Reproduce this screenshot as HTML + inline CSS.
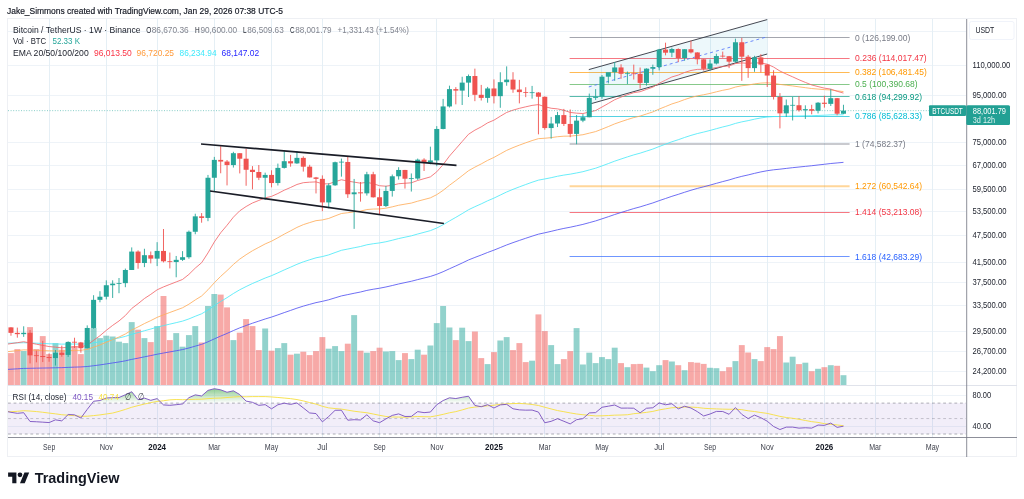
<!DOCTYPE html>
<html lang="en"><head><meta charset="utf-8"><title>BTCUSDT chart</title>
<style>html,body{margin:0;padding:0;background:#fff;}body{width:1024px;height:499px;overflow:hidden;font-family:"Liberation Sans",Arial,sans-serif;}svg{display:block;will-change:transform;filter:blur(0.3px)}</style>
</head><body>
<svg width="1024" height="499" viewBox="0 0 1024 499" font-family="Liberation Sans, Arial, sans-serif">
<g stroke="#eef3f8" stroke-width="1" shape-rendering="crispEdges">
<line x1="8" x2="966" y1="31.5" y2="31.5"/>
<line x1="8" x2="966" y1="65.5" y2="65.5"/>
<line x1="8" x2="966" y1="95.5" y2="95.5"/>
<line x1="8" x2="966" y1="142.5" y2="142.5"/>
<line x1="8" x2="966" y1="165.5" y2="165.5"/>
<line x1="8" x2="966" y1="189.5" y2="189.5"/>
<line x1="8" x2="966" y1="211.5" y2="211.5"/>
<line x1="8" x2="966" y1="235.5" y2="235.5"/>
<line x1="8" x2="966" y1="262.5" y2="262.5"/>
<line x1="8" x2="966" y1="282.5" y2="282.5"/>
<line x1="8" x2="966" y1="305.5" y2="305.5"/>
<line x1="8" x2="966" y1="331.5" y2="331.5"/>
<line x1="8" x2="966" y1="351.5" y2="351.5"/>
<line x1="8" x2="966" y1="371.5" y2="371.5"/>
<line x1="8" x2="966" y1="395.5" y2="395.5"/>
<line x1="8" x2="966" y1="426.5" y2="426.5"/>
<line x1="49.5" x2="49.5" y1="19" y2="437" stroke="#e5eff5"/>
<line x1="106.5" x2="106.5" y1="19" y2="437" stroke="#e5eff5"/>
<line x1="157.5" x2="157.5" y1="19" y2="437" stroke="#e5eff5"/>
<line x1="214.5" x2="214.5" y1="19" y2="437" stroke="#e5eff5"/>
<line x1="271.5" x2="271.5" y1="19" y2="437" stroke="#e5eff5"/>
<line x1="322.5" x2="322.5" y1="19" y2="437" stroke="#e5eff5"/>
<line x1="379.5" x2="379.5" y1="19" y2="437" stroke="#e5eff5"/>
<line x1="436.5" x2="436.5" y1="19" y2="437" stroke="#e5eff5"/>
<line x1="493.5" x2="493.5" y1="19" y2="437" stroke="#e5eff5"/>
<line x1="544.5" x2="544.5" y1="19" y2="437" stroke="#e5eff5"/>
<line x1="601.5" x2="601.5" y1="19" y2="437" stroke="#e5eff5"/>
<line x1="659.5" x2="659.5" y1="19" y2="437" stroke="#e5eff5"/>
<line x1="710.5" x2="710.5" y1="19" y2="437" stroke="#e5eff5"/>
<line x1="767.5" x2="767.5" y1="19" y2="437" stroke="#e5eff5"/>
<line x1="824.5" x2="824.5" y1="19" y2="437" stroke="#e5eff5"/>
<line x1="875.5" x2="875.5" y1="19" y2="437" stroke="#e5eff5"/>
<line x1="932.5" x2="932.5" y1="19" y2="437" stroke="#e5eff5"/>
</g>
<rect x="8" y="403.12" width="958.5" height="30.90" fill="#7e57c2" fill-opacity="0.1"/>
<g stroke="#787b86" stroke-width="1" stroke-dasharray="2.8,2.8" fill="none">
<line x1="8" x2="966" y1="403.12" y2="403.12" stroke-opacity="0.6"/>
<line x1="8" x2="966" y1="418.57" y2="418.57" stroke-opacity="0.4"/>
<line x1="8" x2="966" y1="434.02" y2="434.02" stroke-opacity="0.6"/>
</g>
<rect x="8.02" y="353.10" width="5.9" height="32.10" fill="#ef5350" fill-opacity="0.5"/>
<rect x="14.38" y="349.10" width="5.9" height="36.10" fill="#ef5350" fill-opacity="0.5"/>
<rect x="20.73" y="351.10" width="5.9" height="34.10" fill="#26a69a" fill-opacity="0.5"/>
<rect x="27.09" y="327.10" width="5.9" height="58.10" fill="#ef5350" fill-opacity="0.5"/>
<rect x="33.44" y="349.10" width="5.9" height="36.10" fill="#ef5350" fill-opacity="0.5"/>
<rect x="39.80" y="336.10" width="5.9" height="49.10" fill="#ef5350" fill-opacity="0.5"/>
<rect x="46.15" y="354.10" width="5.9" height="31.10" fill="#ef5350" fill-opacity="0.5"/>
<rect x="52.50" y="343.10" width="5.9" height="42.10" fill="#26a69a" fill-opacity="0.5"/>
<rect x="58.86" y="349.70" width="5.9" height="35.50" fill="#ef5350" fill-opacity="0.5"/>
<rect x="65.22" y="343.10" width="5.9" height="42.10" fill="#26a69a" fill-opacity="0.5"/>
<rect x="71.57" y="346.10" width="5.9" height="39.10" fill="#ef5350" fill-opacity="0.5"/>
<rect x="77.92" y="354.10" width="5.9" height="31.10" fill="#ef5350" fill-opacity="0.5"/>
<rect x="84.28" y="340.10" width="5.9" height="45.10" fill="#26a69a" fill-opacity="0.5"/>
<rect x="90.64" y="328.00" width="5.9" height="57.20" fill="#26a69a" fill-opacity="0.5"/>
<rect x="96.99" y="338.10" width="5.9" height="47.10" fill="#26a69a" fill-opacity="0.5"/>
<rect x="103.34" y="335.70" width="5.9" height="49.50" fill="#26a69a" fill-opacity="0.5"/>
<rect x="109.70" y="336.50" width="5.9" height="48.70" fill="#26a69a" fill-opacity="0.5"/>
<rect x="116.06" y="341.70" width="5.9" height="43.50" fill="#26a69a" fill-opacity="0.5"/>
<rect x="122.41" y="343.10" width="5.9" height="42.10" fill="#26a69a" fill-opacity="0.5"/>
<rect x="128.77" y="322.10" width="5.9" height="63.10" fill="#26a69a" fill-opacity="0.5"/>
<rect x="135.12" y="329.70" width="5.9" height="55.50" fill="#ef5350" fill-opacity="0.5"/>
<rect x="141.48" y="338.10" width="5.9" height="47.10" fill="#26a69a" fill-opacity="0.5"/>
<rect x="147.83" y="342.10" width="5.9" height="43.10" fill="#ef5350" fill-opacity="0.5"/>
<rect x="154.19" y="326.10" width="5.9" height="59.10" fill="#26a69a" fill-opacity="0.5"/>
<rect x="160.54" y="296.00" width="5.9" height="89.20" fill="#ef5350" fill-opacity="0.5"/>
<rect x="166.90" y="340.10" width="5.9" height="45.10" fill="#ef5350" fill-opacity="0.5"/>
<rect x="173.25" y="333.10" width="5.9" height="52.10" fill="#26a69a" fill-opacity="0.5"/>
<rect x="179.61" y="346.70" width="5.9" height="38.50" fill="#26a69a" fill-opacity="0.5"/>
<rect x="185.96" y="335.10" width="5.9" height="50.10" fill="#26a69a" fill-opacity="0.5"/>
<rect x="192.32" y="326.10" width="5.9" height="59.10" fill="#26a69a" fill-opacity="0.5"/>
<rect x="198.67" y="342.50" width="5.9" height="42.70" fill="#ef5350" fill-opacity="0.5"/>
<rect x="205.03" y="306.00" width="5.9" height="79.20" fill="#26a69a" fill-opacity="0.5"/>
<rect x="211.38" y="294.00" width="5.9" height="91.20" fill="#26a69a" fill-opacity="0.5"/>
<rect x="217.74" y="294.60" width="5.9" height="90.60" fill="#ef5350" fill-opacity="0.5"/>
<rect x="224.09" y="307.40" width="5.9" height="77.80" fill="#ef5350" fill-opacity="0.5"/>
<rect x="230.45" y="340.10" width="5.9" height="45.10" fill="#26a69a" fill-opacity="0.5"/>
<rect x="236.80" y="332.70" width="5.9" height="52.50" fill="#ef5350" fill-opacity="0.5"/>
<rect x="243.16" y="319.10" width="5.9" height="66.10" fill="#ef5350" fill-opacity="0.5"/>
<rect x="249.51" y="326.10" width="5.9" height="59.10" fill="#ef5350" fill-opacity="0.5"/>
<rect x="255.87" y="350.10" width="5.9" height="35.10" fill="#ef5350" fill-opacity="0.5"/>
<rect x="262.22" y="328.50" width="5.9" height="56.70" fill="#26a69a" fill-opacity="0.5"/>
<rect x="268.58" y="350.70" width="5.9" height="34.50" fill="#ef5350" fill-opacity="0.5"/>
<rect x="274.93" y="348.10" width="5.9" height="37.10" fill="#26a69a" fill-opacity="0.5"/>
<rect x="281.29" y="343.10" width="5.9" height="42.10" fill="#26a69a" fill-opacity="0.5"/>
<rect x="287.64" y="354.70" width="5.9" height="30.50" fill="#ef5350" fill-opacity="0.5"/>
<rect x="294.00" y="353.70" width="5.9" height="31.50" fill="#26a69a" fill-opacity="0.5"/>
<rect x="300.35" y="351.70" width="5.9" height="33.50" fill="#ef5350" fill-opacity="0.5"/>
<rect x="306.71" y="355.10" width="5.9" height="30.10" fill="#ef5350" fill-opacity="0.5"/>
<rect x="313.06" y="351.10" width="5.9" height="34.10" fill="#ef5350" fill-opacity="0.5"/>
<rect x="319.42" y="337.10" width="5.9" height="48.10" fill="#ef5350" fill-opacity="0.5"/>
<rect x="325.77" y="348.70" width="5.9" height="36.50" fill="#26a69a" fill-opacity="0.5"/>
<rect x="332.13" y="346.10" width="5.9" height="39.10" fill="#26a69a" fill-opacity="0.5"/>
<rect x="338.48" y="351.10" width="5.9" height="34.10" fill="#26a69a" fill-opacity="0.5"/>
<rect x="344.84" y="343.70" width="5.9" height="41.50" fill="#ef5350" fill-opacity="0.5"/>
<rect x="351.19" y="315.10" width="5.9" height="70.10" fill="#26a69a" fill-opacity="0.5"/>
<rect x="357.55" y="350.70" width="5.9" height="34.50" fill="#ef5350" fill-opacity="0.5"/>
<rect x="363.90" y="352.70" width="5.9" height="32.50" fill="#26a69a" fill-opacity="0.5"/>
<rect x="370.26" y="351.10" width="5.9" height="34.10" fill="#ef5350" fill-opacity="0.5"/>
<rect x="376.61" y="347.70" width="5.9" height="37.50" fill="#ef5350" fill-opacity="0.5"/>
<rect x="382.97" y="351.50" width="5.9" height="33.70" fill="#26a69a" fill-opacity="0.5"/>
<rect x="389.32" y="351.10" width="5.9" height="34.10" fill="#26a69a" fill-opacity="0.5"/>
<rect x="395.68" y="360.10" width="5.9" height="25.10" fill="#26a69a" fill-opacity="0.5"/>
<rect x="402.03" y="353.10" width="5.9" height="32.10" fill="#ef5350" fill-opacity="0.5"/>
<rect x="408.39" y="359.10" width="5.9" height="26.10" fill="#26a69a" fill-opacity="0.5"/>
<rect x="414.74" y="349.70" width="5.9" height="35.50" fill="#26a69a" fill-opacity="0.5"/>
<rect x="421.10" y="354.70" width="5.9" height="30.50" fill="#ef5350" fill-opacity="0.5"/>
<rect x="427.45" y="345.50" width="5.9" height="39.70" fill="#26a69a" fill-opacity="0.5"/>
<rect x="433.81" y="323.10" width="5.9" height="62.10" fill="#26a69a" fill-opacity="0.5"/>
<rect x="440.16" y="306.00" width="5.9" height="79.20" fill="#26a69a" fill-opacity="0.5"/>
<rect x="446.52" y="327.50" width="5.9" height="57.70" fill="#26a69a" fill-opacity="0.5"/>
<rect x="452.87" y="340.10" width="5.9" height="45.10" fill="#ef5350" fill-opacity="0.5"/>
<rect x="459.23" y="327.70" width="5.9" height="57.50" fill="#26a69a" fill-opacity="0.5"/>
<rect x="465.58" y="341.10" width="5.9" height="44.10" fill="#26a69a" fill-opacity="0.5"/>
<rect x="471.94" y="331.50" width="5.9" height="53.70" fill="#ef5350" fill-opacity="0.5"/>
<rect x="478.29" y="358.10" width="5.9" height="27.10" fill="#ef5350" fill-opacity="0.5"/>
<rect x="484.65" y="364.10" width="5.9" height="21.10" fill="#26a69a" fill-opacity="0.5"/>
<rect x="491.00" y="352.10" width="5.9" height="33.10" fill="#ef5350" fill-opacity="0.5"/>
<rect x="497.36" y="340.50" width="5.9" height="44.70" fill="#26a69a" fill-opacity="0.5"/>
<rect x="503.71" y="337.10" width="5.9" height="48.10" fill="#26a69a" fill-opacity="0.5"/>
<rect x="510.06" y="350.10" width="5.9" height="35.10" fill="#ef5350" fill-opacity="0.5"/>
<rect x="516.42" y="343.10" width="5.9" height="42.10" fill="#ef5350" fill-opacity="0.5"/>
<rect x="522.77" y="362.10" width="5.9" height="23.10" fill="#ef5350" fill-opacity="0.5"/>
<rect x="529.13" y="360.70" width="5.9" height="24.50" fill="#26a69a" fill-opacity="0.5"/>
<rect x="535.49" y="314.40" width="5.9" height="70.80" fill="#ef5350" fill-opacity="0.5"/>
<rect x="541.84" y="331.10" width="5.9" height="54.10" fill="#ef5350" fill-opacity="0.5"/>
<rect x="548.20" y="345.10" width="5.9" height="40.10" fill="#26a69a" fill-opacity="0.5"/>
<rect x="554.55" y="364.10" width="5.9" height="21.10" fill="#26a69a" fill-opacity="0.5"/>
<rect x="560.90" y="359.10" width="5.9" height="26.10" fill="#ef5350" fill-opacity="0.5"/>
<rect x="567.26" y="351.10" width="5.9" height="34.10" fill="#ef5350" fill-opacity="0.5"/>
<rect x="573.62" y="328.10" width="5.9" height="57.10" fill="#26a69a" fill-opacity="0.5"/>
<rect x="579.97" y="364.50" width="5.9" height="20.70" fill="#26a69a" fill-opacity="0.5"/>
<rect x="586.33" y="352.70" width="5.9" height="32.50" fill="#26a69a" fill-opacity="0.5"/>
<rect x="592.68" y="363.10" width="5.9" height="22.10" fill="#26a69a" fill-opacity="0.5"/>
<rect x="599.03" y="357.10" width="5.9" height="28.10" fill="#26a69a" fill-opacity="0.5"/>
<rect x="605.39" y="359.10" width="5.9" height="26.10" fill="#26a69a" fill-opacity="0.5"/>
<rect x="611.75" y="347.70" width="5.9" height="37.50" fill="#26a69a" fill-opacity="0.5"/>
<rect x="618.10" y="363.10" width="5.9" height="22.10" fill="#ef5350" fill-opacity="0.5"/>
<rect x="624.46" y="367.20" width="5.9" height="18.00" fill="#26a69a" fill-opacity="0.5"/>
<rect x="630.81" y="364.10" width="5.9" height="21.10" fill="#ef5350" fill-opacity="0.5"/>
<rect x="637.17" y="363.90" width="5.9" height="21.30" fill="#ef5350" fill-opacity="0.5"/>
<rect x="643.52" y="367.60" width="5.9" height="17.60" fill="#26a69a" fill-opacity="0.5"/>
<rect x="649.88" y="371.20" width="5.9" height="14.00" fill="#26a69a" fill-opacity="0.5"/>
<rect x="656.23" y="365.20" width="5.9" height="20.00" fill="#26a69a" fill-opacity="0.5"/>
<rect x="662.59" y="360.10" width="5.9" height="25.10" fill="#ef5350" fill-opacity="0.5"/>
<rect x="668.94" y="361.50" width="5.9" height="23.70" fill="#26a69a" fill-opacity="0.5"/>
<rect x="675.30" y="365.20" width="5.9" height="20.00" fill="#ef5350" fill-opacity="0.5"/>
<rect x="681.65" y="370.20" width="5.9" height="15.00" fill="#26a69a" fill-opacity="0.5"/>
<rect x="688.00" y="362.10" width="5.9" height="23.10" fill="#ef5350" fill-opacity="0.5"/>
<rect x="694.36" y="362.70" width="5.9" height="22.50" fill="#ef5350" fill-opacity="0.5"/>
<rect x="700.72" y="363.90" width="5.9" height="21.30" fill="#ef5350" fill-opacity="0.5"/>
<rect x="707.07" y="367.80" width="5.9" height="17.40" fill="#26a69a" fill-opacity="0.5"/>
<rect x="713.43" y="368.20" width="5.9" height="17.00" fill="#26a69a" fill-opacity="0.5"/>
<rect x="719.78" y="371.20" width="5.9" height="14.00" fill="#ef5350" fill-opacity="0.5"/>
<rect x="726.13" y="367.20" width="5.9" height="18.00" fill="#ef5350" fill-opacity="0.5"/>
<rect x="732.49" y="361.10" width="5.9" height="24.10" fill="#26a69a" fill-opacity="0.5"/>
<rect x="738.85" y="345.10" width="5.9" height="40.10" fill="#ef5350" fill-opacity="0.5"/>
<rect x="745.20" y="352.50" width="5.9" height="32.70" fill="#ef5350" fill-opacity="0.5"/>
<rect x="751.56" y="359.10" width="5.9" height="26.10" fill="#26a69a" fill-opacity="0.5"/>
<rect x="757.91" y="361.10" width="5.9" height="24.10" fill="#ef5350" fill-opacity="0.5"/>
<rect x="764.26" y="347.10" width="5.9" height="38.10" fill="#ef5350" fill-opacity="0.5"/>
<rect x="770.62" y="349.10" width="5.9" height="36.10" fill="#ef5350" fill-opacity="0.5"/>
<rect x="776.98" y="336.10" width="5.9" height="49.10" fill="#ef5350" fill-opacity="0.5"/>
<rect x="783.33" y="362.50" width="5.9" height="22.70" fill="#26a69a" fill-opacity="0.5"/>
<rect x="789.69" y="356.70" width="5.9" height="28.50" fill="#26a69a" fill-opacity="0.5"/>
<rect x="796.04" y="364.10" width="5.9" height="21.10" fill="#ef5350" fill-opacity="0.5"/>
<rect x="802.39" y="362.70" width="5.9" height="22.50" fill="#26a69a" fill-opacity="0.5"/>
<rect x="808.75" y="371.20" width="5.9" height="14.00" fill="#ef5350" fill-opacity="0.5"/>
<rect x="815.11" y="368.80" width="5.9" height="16.40" fill="#26a69a" fill-opacity="0.5"/>
<rect x="821.46" y="367.20" width="5.9" height="18.00" fill="#ef5350" fill-opacity="0.5"/>
<rect x="827.82" y="365.20" width="5.9" height="20.00" fill="#26a69a" fill-opacity="0.5"/>
<rect x="834.17" y="365.80" width="5.9" height="19.40" fill="#ef5350" fill-opacity="0.5"/>
<rect x="840.53" y="375.20" width="5.9" height="10.00" fill="#26a69a" fill-opacity="0.5"/>
<line x1="569.6" x2="849.6" y1="37.50" y2="37.50" stroke="#787b86" stroke-width="0.9" stroke-opacity="0.75"/>
<line x1="569.6" x2="849.6" y1="58.50" y2="58.50" stroke="#f23645" stroke-width="0.9" stroke-opacity="0.75"/>
<line x1="569.6" x2="849.6" y1="72.50" y2="72.50" stroke="#ff9800" stroke-width="0.9" stroke-opacity="0.75"/>
<line x1="569.6" x2="849.6" y1="84.50" y2="84.50" stroke="#4caf50" stroke-width="0.9" stroke-opacity="0.75"/>
<line x1="569.6" x2="849.6" y1="96.50" y2="96.50" stroke="#089981" stroke-width="0.9" stroke-opacity="0.75"/>
<line x1="569.6" x2="849.6" y1="116.50" y2="116.50" stroke="#00bcd4" stroke-width="0.9" stroke-opacity="0.75"/>
<line x1="569.6" x2="849.6" y1="144.05" y2="144.05" stroke="#787b86" stroke-width="2" stroke-opacity="0.4"/>
<line x1="569.6" x2="849.6" y1="186.16" y2="186.16" stroke="#ff9800" stroke-width="2" stroke-opacity="0.4"/>
<line x1="569.6" x2="849.6" y1="212.50" y2="212.50" stroke="#f23645" stroke-width="0.9" stroke-opacity="0.75"/>
<line x1="569.6" x2="849.6" y1="256.50" y2="256.50" stroke="#2962ff" stroke-width="0.9" stroke-opacity="0.75"/>
<polygon points="588.8,69.6 767.2,19.6 767.2,54.0 588.8,104.3" fill="#00a0c8" fill-opacity="0.07"/>
<line x1="588.8" y1="69.6" x2="767.2" y2="19.6" stroke="#3a3e49" stroke-width="0.95"/>
<line x1="588.8" y1="104.3" x2="767.2" y2="54.0" stroke="#3a3e49" stroke-width="0.95"/>
<line x1="588.8" y1="86.9" x2="767.2" y2="36.8" stroke="#5b7cfa" stroke-width="0.9" stroke-dasharray="3,3"/>
<polyline points="7.5,369.41 10.97,369.20 17.33,368.82 23.68,368.43 30.04,368.29 36.39,368.17 42.75,368.05 49.10,367.95 55.45,367.79 61.81,367.66 68.17,367.39 74.52,367.13 80.88,366.93 87.23,366.50 93.59,365.72 99.94,364.90 106.30,363.93 112.65,362.95 119.01,361.98 125.36,360.82 131.72,359.39 138.07,358.16 144.43,356.83 150.78,355.58 157.14,354.22 163.49,353.04 169.84,351.90 176.20,350.75 182.56,349.57 188.91,347.98 195.27,346.14 201.62,344.37 207.98,341.81 214.33,338.89 220.69,336.09 227.04,333.43 233.40,330.55 239.75,327.87 246.11,325.50 252.46,323.22 258.82,321.11 265.17,318.99 271.53,317.07 277.88,314.88 284.24,312.60 290.59,310.42 296.95,308.16 303.30,306.13 309.66,304.35 316.01,302.63 322.37,301.34 328.72,299.79 335.08,297.83 341.43,295.91 347.79,294.60 354.14,293.28 360.50,292.00 366.85,290.42 373.21,289.24 379.56,288.22 385.92,286.98 392.27,285.52 398.63,283.97 404.98,282.60 411.34,281.25 417.69,279.60 424.05,278.03 430.40,276.45 436.76,274.30 443.11,271.71 449.47,268.78 455.82,265.95 462.18,263.00 468.53,259.96 474.89,257.43 481.24,255.03 487.60,252.47 493.95,250.14 500.31,247.55 506.66,244.96 513.01,242.64 519.37,240.43 525.73,238.27 532.08,236.16 538.44,234.17 544.79,232.79 551.15,231.35 557.50,229.79 563.86,228.41 570.21,227.22 576.57,225.82 582.92,224.40 589.28,222.66 595.63,220.92 601.99,218.84 608.34,216.71 614.70,214.52 621.05,212.50 627.41,210.53 633.76,208.59 640.12,206.86 646.47,204.90 652.83,202.94 659.18,200.67 665.54,198.51 671.89,196.32 678.25,194.35 684.60,192.25 690.96,190.25 697.31,188.43 703.67,186.81 710.02,185.12 716.38,183.33 722.73,181.58 729.09,179.96 735.44,178.00 741.80,176.35 748.15,174.93 754.51,173.35 760.86,171.92 767.22,170.70 773.57,169.81 779.93,169.17 786.28,168.42 792.64,167.68 798.99,167.02 805.35,166.36 811.70,165.72 818.06,164.99 824.41,164.28 830.77,163.50 837.12,162.94 843.48,162.35" fill="none" stroke="#5555f2" stroke-width="0.85" stroke-linejoin="round"/>
<polyline points="7.5,343.20 10.97,343.10 17.33,342.92 23.68,342.71 30.04,342.96 36.39,343.21 42.75,343.47 49.10,343.75 55.45,343.93 61.81,344.14 68.17,344.09 74.52,344.06 80.88,344.14 87.23,343.81 93.59,342.84 99.94,341.82 106.30,340.53 112.65,339.23 119.01,337.95 125.36,336.36 131.72,334.28 138.07,332.60 144.43,330.74 150.78,329.03 157.14,327.15 163.49,325.61 169.84,324.14 176.20,322.65 182.56,321.12 188.91,318.91 195.27,316.28 201.62,313.79 207.98,309.98 214.33,305.61 220.69,301.49 227.04,297.67 233.40,293.53 239.75,289.77 246.11,286.55 252.46,283.52 258.82,280.79 265.17,278.05 271.53,275.66 277.88,272.86 284.24,269.93 290.59,267.17 296.95,264.32 303.30,261.85 309.66,259.78 316.01,257.82 322.37,256.56 328.72,254.88 335.08,252.56 341.43,250.31 347.79,249.04 354.14,247.75 360.50,246.51 366.85,244.80 373.21,243.74 379.56,242.92 385.92,241.75 392.27,240.23 398.63,238.57 404.98,237.19 411.34,235.85 417.69,234.03 424.05,232.34 430.40,230.63 436.76,228.03 443.11,224.76 449.47,220.96 455.82,217.37 462.18,213.61 468.53,209.74 474.89,206.70 481.24,203.86 487.60,200.80 493.95,198.11 500.31,195.03 506.66,191.97 513.01,189.34 519.37,186.89 525.73,184.53 532.08,182.23 538.44,180.14 544.79,178.96 551.15,177.70 557.50,176.26 563.86,175.08 570.21,174.17 576.57,172.96 582.92,171.70 589.28,169.94 595.63,168.20 601.99,165.92 608.34,163.57 614.70,161.15 621.05,159.00 627.41,156.90 633.76,154.88 640.12,153.17 646.47,151.10 652.83,149.05 659.18,146.52 665.54,144.17 671.89,141.78 678.25,139.73 684.60,137.48 690.96,135.40 697.31,133.58 703.67,132.07 710.02,130.46 716.38,128.69 722.73,126.97 729.09,125.45 735.44,123.42 741.80,121.86 748.15,120.64 754.51,119.18 760.86,117.94 767.22,117.01 773.57,116.59 779.93,116.53 786.28,116.30 792.64,116.07 798.99,115.96 805.35,115.82 811.70,115.72 818.06,115.45 824.41,115.22 830.77,114.86 837.12,114.84 843.48,114.76" fill="none" stroke="#4eeaf8" stroke-width="0.85" stroke-linejoin="round"/>
<polyline points="7.5,351.69 10.97,351.30 17.33,350.60 23.68,349.87 30.04,350.08 36.39,350.31 42.75,350.57 49.10,350.86 55.45,350.94 61.81,351.09 68.17,350.72 74.52,350.39 80.88,350.31 87.23,349.38 93.59,347.19 99.94,344.96 106.30,342.25 112.65,339.60 119.01,337.06 125.36,333.97 131.72,330.02 138.07,326.92 144.43,323.57 150.78,320.59 157.14,317.36 163.49,314.84 169.84,312.48 176.20,310.14 182.56,307.78 188.91,304.19 195.27,299.92 201.62,295.99 207.98,289.79 214.33,282.76 220.69,276.35 227.04,270.61 233.40,264.46 239.75,259.08 246.11,254.72 252.46,250.75 258.82,247.33 265.17,243.95 271.53,241.18 277.88,237.74 284.24,234.13 290.59,230.83 296.95,227.41 303.30,224.65 309.66,222.58 316.01,220.67 322.37,219.93 328.72,218.45 335.08,215.92 341.43,213.51 347.79,212.72 354.14,211.88 360.50,211.12 366.85,209.54 373.21,209.05 379.56,208.93 385.92,208.19 392.27,206.84 398.63,205.26 404.98,204.15 411.34,203.08 417.69,201.19 424.05,199.53 430.40,197.85 436.76,194.65 443.11,190.36 449.47,185.27 455.82,180.59 462.18,175.70 468.53,170.71 474.89,167.13 481.24,163.92 487.60,160.36 493.95,157.42 500.31,153.88 506.66,150.39 513.01,147.62 519.37,145.13 525.73,142.80 532.08,140.58 538.44,138.67 544.79,138.24 551.15,137.64 557.50,136.71 563.86,136.19 570.21,136.10 576.57,135.47 582.92,134.73 589.28,133.15 595.63,131.59 601.99,129.13 608.34,126.57 614.70,123.89 621.05,121.67 627.41,119.55 633.76,117.55 640.12,116.08 646.47,113.99 652.83,111.93 659.18,109.08 665.54,106.55 671.89,103.95 678.25,101.94 684.60,99.59 690.96,97.52 697.31,95.88 703.67,94.75 710.02,93.43 716.38,91.82 722.73,90.30 729.09,89.10 735.44,87.04 741.80,85.76 748.15,85.04 754.51,83.88 760.86,83.09 767.22,82.79 773.57,83.32 779.93,84.42 786.28,85.20 792.64,85.95 798.99,86.85 805.35,87.68 811.70,88.54 818.06,89.07 824.41,89.63 830.77,89.96 837.12,90.84 843.48,91.58" fill="none" stroke="#ffae5c" stroke-width="0.85" stroke-linejoin="round"/>
<polyline points="7.5,344.11 10.97,343.60 17.33,342.68 23.68,341.72 30.04,342.98 36.39,344.19 42.75,345.38 49.10,346.55 55.45,347.13 61.81,347.86 68.17,347.29 74.52,346.82 80.88,346.95 87.23,345.07 93.59,340.30 99.94,335.72 106.30,330.33 112.65,325.39 119.01,320.96 125.36,315.51 131.72,308.47 138.07,303.68 144.43,298.52 150.78,294.37 157.14,289.80 163.49,286.91 169.84,284.40 176.20,281.93 182.56,279.44 188.91,274.38 195.27,268.08 201.62,262.73 207.98,252.91 214.33,241.96 220.69,232.76 227.04,225.25 233.40,217.16 239.75,210.81 246.11,206.52 252.46,202.97 258.82,200.43 265.17,197.85 271.53,196.39 277.88,193.50 284.24,190.19 290.59,187.48 296.95,184.47 303.30,182.70 309.66,182.20 316.01,181.88 322.37,183.75 328.72,183.90 335.08,181.73 341.43,179.76 347.79,181.10 354.14,182.14 360.50,183.18 366.85,182.32 373.21,183.69 379.56,185.72 385.92,186.21 392.27,185.24 398.63,183.73 404.98,183.25 411.34,182.80 417.69,180.48 424.05,178.71 430.40,176.89 436.76,171.81 443.11,164.59 449.47,156.06 455.82,148.82 462.18,141.50 468.53,134.26 474.89,130.15 481.24,126.85 487.60,122.86 493.95,120.16 500.31,116.22 506.66,112.44 513.01,110.14 519.37,108.35 525.73,106.82 532.08,105.42 538.44,104.58 544.79,106.70 551.15,108.24 557.50,108.88 563.86,110.27 570.21,112.41 576.57,113.17 582.92,113.56 589.28,112.01 595.63,110.51 601.99,107.03 608.34,103.44 614.70,99.72 621.05,97.10 627.41,94.74 633.76,92.66 640.12,91.71 646.47,89.39 652.83,87.16 659.18,83.26 665.54,80.14 671.89,76.96 678.25,75.08 684.60,72.47 690.96,70.47 697.31,69.38 703.67,69.33 710.02,68.77 716.38,67.52 722.73,66.42 729.09,65.96 735.44,63.58 741.80,62.91 748.15,63.40 754.51,62.82 760.86,62.99 767.22,64.16 773.57,67.05 779.93,71.03 786.28,74.06 792.64,76.83 798.99,79.78 805.35,82.40 811.70,84.94 818.06,86.57 824.41,88.15 830.77,89.09 837.12,91.31 843.48,93.07" fill="none" stroke="#f2686b" stroke-width="0.85" stroke-linejoin="round"/>
<line x1="8" x2="966" y1="110.65" y2="110.65" stroke="#26a69a" stroke-width="1" stroke-dasharray="1,1.6" stroke-opacity="0.55"/>
<line x1="10.97" x2="10.97" y1="327.26" y2="335.74" stroke="#ef5350" stroke-width="0.9"/>
<rect x="8.47" y="327.37" width="5.0" height="5.50" fill="#ef5350"/>
<line x1="17.33" x2="17.33" y1="327.61" y2="337.68" stroke="#ef5350" stroke-width="0.9"/>
<rect x="14.83" y="332.86" width="5.0" height="1.29" fill="#ef5350"/>
<line x1="23.68" x2="23.68" y1="326.29" y2="336.86" stroke="#26a69a" stroke-width="0.9"/>
<rect x="21.18" y="332.80" width="5.0" height="1.36" fill="#26a69a"/>
<line x1="30.04" x2="30.04" y1="330.06" y2="363.40" stroke="#ef5350" stroke-width="0.9"/>
<rect x="27.54" y="332.80" width="5.0" height="22.55" fill="#ef5350"/>
<line x1="36.39" x2="36.39" y1="350.56" y2="362.33" stroke="#ef5350" stroke-width="0.9"/>
<rect x="33.89" y="355.29" width="5.0" height="0.80" fill="#ef5350"/>
<line x1="42.75" x2="42.75" y1="340.83" y2="362.06" stroke="#ef5350" stroke-width="0.9"/>
<rect x="40.25" y="356.03" width="5.0" height="1.01" fill="#ef5350"/>
<line x1="49.10" x2="49.10" y1="353.39" y2="361.75" stroke="#ef5350" stroke-width="0.9"/>
<rect x="46.60" y="357.04" width="5.0" height="1.01" fill="#ef5350"/>
<line x1="55.45" x2="55.45" y1="350.04" y2="365.54" stroke="#26a69a" stroke-width="0.9"/>
<rect x="52.95" y="352.77" width="5.0" height="5.29" fill="#26a69a"/>
<line x1="61.81" x2="61.81" y1="345.62" y2="356.73" stroke="#ef5350" stroke-width="0.9"/>
<rect x="59.31" y="352.77" width="5.0" height="2.13" fill="#ef5350"/>
<line x1="68.17" x2="68.17" y1="341.39" y2="356.89" stroke="#26a69a" stroke-width="0.9"/>
<rect x="65.67" y="341.91" width="5.0" height="12.99" fill="#26a69a"/>
<line x1="74.52" x2="74.52" y1="337.72" y2="348.00" stroke="#ef5350" stroke-width="0.9"/>
<rect x="72.02" y="341.78" width="5.0" height="0.80" fill="#ef5350"/>
<line x1="80.88" x2="80.88" y1="341.93" y2="352.68" stroke="#ef5350" stroke-width="0.9"/>
<rect x="78.38" y="342.45" width="5.0" height="5.77" fill="#ef5350"/>
<line x1="87.23" x2="87.23" y1="325.39" y2="348.36" stroke="#26a69a" stroke-width="0.9"/>
<rect x="84.73" y="327.97" width="5.0" height="20.26" fill="#26a69a"/>
<line x1="93.59" x2="93.59" y1="295.19" y2="328.71" stroke="#26a69a" stroke-width="0.9"/>
<rect x="91.09" y="299.86" width="5.0" height="28.11" fill="#26a69a"/>
<line x1="99.94" x2="99.94" y1="291.20" y2="302.29" stroke="#26a69a" stroke-width="0.9"/>
<rect x="97.44" y="296.73" width="5.0" height="3.13" fill="#26a69a"/>
<line x1="106.30" x2="106.30" y1="280.35" y2="299.44" stroke="#26a69a" stroke-width="0.9"/>
<rect x="103.80" y="285.23" width="5.0" height="11.50" fill="#26a69a"/>
<line x1="112.65" x2="112.65" y1="280.30" y2="297.96" stroke="#26a69a" stroke-width="0.9"/>
<rect x="110.15" y="283.63" width="5.0" height="1.60" fill="#26a69a"/>
<line x1="119.01" x2="119.01" y1="278.01" y2="293.19" stroke="#26a69a" stroke-width="0.9"/>
<rect x="116.51" y="282.99" width="5.0" height="0.80" fill="#26a69a"/>
<line x1="125.36" x2="125.36" y1="268.58" y2="287.19" stroke="#26a69a" stroke-width="0.9"/>
<rect x="122.86" y="269.99" width="5.0" height="13.16" fill="#26a69a"/>
<line x1="131.72" x2="131.72" y1="247.41" y2="269.98" stroke="#26a69a" stroke-width="0.9"/>
<rect x="129.22" y="251.57" width="5.0" height="18.42" fill="#26a69a"/>
<line x1="138.07" x2="138.07" y1="250.37" y2="268.72" stroke="#ef5350" stroke-width="0.9"/>
<rect x="135.57" y="251.57" width="5.0" height="11.45" fill="#ef5350"/>
<line x1="144.43" x2="144.43" y1="248.78" y2="267.12" stroke="#26a69a" stroke-width="0.9"/>
<rect x="141.93" y="255.19" width="5.0" height="7.83" fill="#26a69a"/>
<line x1="150.78" x2="150.78" y1="251.51" y2="263.38" stroke="#ef5350" stroke-width="0.9"/>
<rect x="148.28" y="255.19" width="5.0" height="3.44" fill="#ef5350"/>
<line x1="157.14" x2="157.14" y1="242.16" y2="266.09" stroke="#26a69a" stroke-width="0.9"/>
<rect x="154.64" y="250.93" width="5.0" height="7.71" fill="#26a69a"/>
<line x1="163.49" x2="163.49" y1="229.00" y2="262.41" stroke="#ef5350" stroke-width="0.9"/>
<rect x="160.99" y="250.93" width="5.0" height="10.36" fill="#ef5350"/>
<line x1="169.84" x2="169.84" y1="252.54" y2="268.43" stroke="#ef5350" stroke-width="0.9"/>
<rect x="167.34" y="261.25" width="5.0" height="0.80" fill="#ef5350"/>
<line x1="176.20" x2="176.20" y1="255.98" y2="277.27" stroke="#26a69a" stroke-width="0.9"/>
<rect x="173.70" y="259.84" width="5.0" height="2.18" fill="#26a69a"/>
<line x1="182.56" x2="182.56" y1="251.14" y2="260.94" stroke="#26a69a" stroke-width="0.9"/>
<rect x="180.06" y="257.21" width="5.0" height="2.63" fill="#26a69a"/>
<line x1="188.91" x2="188.91" y1="230.56" y2="258.76" stroke="#26a69a" stroke-width="0.9"/>
<rect x="186.41" y="231.77" width="5.0" height="25.44" fill="#26a69a"/>
<line x1="195.27" x2="195.27" y1="213.73" y2="234.26" stroke="#26a69a" stroke-width="0.9"/>
<rect x="192.77" y="216.34" width="5.0" height="15.43" fill="#26a69a"/>
<line x1="201.62" x2="201.62" y1="213.08" y2="222.70" stroke="#ef5350" stroke-width="0.9"/>
<rect x="199.12" y="216.34" width="5.0" height="1.59" fill="#ef5350"/>
<line x1="207.98" x2="207.98" y1="174.95" y2="221.18" stroke="#26a69a" stroke-width="0.9"/>
<rect x="205.48" y="177.76" width="5.0" height="40.16" fill="#26a69a"/>
<line x1="214.33" x2="214.33" y1="156.88" y2="191.36" stroke="#26a69a" stroke-width="0.9"/>
<rect x="211.83" y="159.89" width="5.0" height="17.87" fill="#26a69a"/>
<line x1="220.69" x2="220.69" y1="146.25" y2="173.27" stroke="#ef5350" stroke-width="0.9"/>
<rect x="218.19" y="159.89" width="5.0" height="1.66" fill="#ef5350"/>
<line x1="227.04" x2="227.04" y1="160.00" y2="185.39" stroke="#ef5350" stroke-width="0.9"/>
<rect x="224.54" y="161.55" width="5.0" height="3.52" fill="#ef5350"/>
<line x1="233.40" x2="233.40" y1="151.81" y2="167.56" stroke="#26a69a" stroke-width="0.9"/>
<rect x="230.90" y="153.20" width="5.0" height="11.87" fill="#26a69a"/>
<line x1="239.75" x2="239.75" y1="153.17" y2="173.40" stroke="#ef5350" stroke-width="0.9"/>
<rect x="237.25" y="153.20" width="5.0" height="5.51" fill="#ef5350"/>
<line x1="246.11" x2="246.11" y1="148.95" y2="185.77" stroke="#ef5350" stroke-width="0.9"/>
<rect x="243.61" y="158.71" width="5.0" height="11.07" fill="#ef5350"/>
<line x1="252.46" x2="252.46" y1="166.10" y2="189.33" stroke="#ef5350" stroke-width="0.9"/>
<rect x="249.96" y="169.78" width="5.0" height="2.23" fill="#ef5350"/>
<line x1="258.82" x2="258.82" y1="165.00" y2="180.09" stroke="#ef5350" stroke-width="0.9"/>
<rect x="256.32" y="172.00" width="5.0" height="5.75" fill="#ef5350"/>
<line x1="265.17" x2="265.17" y1="172.65" y2="199.93" stroke="#26a69a" stroke-width="0.9"/>
<rect x="262.67" y="174.91" width="5.0" height="2.84" fill="#26a69a"/>
<line x1="271.53" x2="271.53" y1="170.27" y2="187.35" stroke="#ef5350" stroke-width="0.9"/>
<rect x="269.03" y="174.91" width="5.0" height="8.14" fill="#ef5350"/>
<line x1="277.88" x2="277.88" y1="163.60" y2="185.47" stroke="#26a69a" stroke-width="0.9"/>
<rect x="275.38" y="167.90" width="5.0" height="15.15" fill="#26a69a"/>
<line x1="284.24" x2="284.24" y1="151.23" y2="168.55" stroke="#26a69a" stroke-width="0.9"/>
<rect x="281.74" y="161.21" width="5.0" height="6.69" fill="#26a69a"/>
<line x1="290.59" x2="290.59" y1="154.88" y2="166.70" stroke="#ef5350" stroke-width="0.9"/>
<rect x="288.09" y="161.21" width="5.0" height="2.20" fill="#ef5350"/>
<line x1="296.95" x2="296.95" y1="151.18" y2="163.86" stroke="#26a69a" stroke-width="0.9"/>
<rect x="294.45" y="157.87" width="5.0" height="5.53" fill="#26a69a"/>
<line x1="303.30" x2="303.30" y1="156.29" y2="171.58" stroke="#ef5350" stroke-width="0.9"/>
<rect x="300.80" y="157.87" width="5.0" height="8.81" fill="#ef5350"/>
<line x1="309.66" x2="309.66" y1="164.80" y2="177.56" stroke="#ef5350" stroke-width="0.9"/>
<rect x="307.16" y="166.68" width="5.0" height="10.77" fill="#ef5350"/>
<line x1="316.01" x2="316.01" y1="176.95" y2="193.43" stroke="#ef5350" stroke-width="0.9"/>
<rect x="313.51" y="177.45" width="5.0" height="1.41" fill="#ef5350"/>
<line x1="322.37" x2="322.37" y1="175.39" y2="211.19" stroke="#ef5350" stroke-width="0.9"/>
<rect x="319.87" y="178.86" width="5.0" height="23.56" fill="#ef5350"/>
<line x1="328.72" x2="328.72" y1="183.26" y2="208.28" stroke="#26a69a" stroke-width="0.9"/>
<rect x="326.22" y="185.31" width="5.0" height="17.11" fill="#26a69a"/>
<line x1="335.08" x2="335.08" y1="161.62" y2="185.86" stroke="#26a69a" stroke-width="0.9"/>
<rect x="332.58" y="162.22" width="5.0" height="23.09" fill="#26a69a"/>
<line x1="341.43" x2="341.43" y1="158.60" y2="176.67" stroke="#26a69a" stroke-width="0.9"/>
<rect x="338.93" y="161.69" width="5.0" height="0.80" fill="#26a69a"/>
<line x1="347.79" x2="347.79" y1="156.63" y2="197.90" stroke="#ef5350" stroke-width="0.9"/>
<rect x="345.29" y="161.97" width="5.0" height="32.29" fill="#ef5350"/>
<line x1="354.14" x2="354.14" y1="178.95" y2="228.87" stroke="#26a69a" stroke-width="0.9"/>
<rect x="351.64" y="192.36" width="5.0" height="1.90" fill="#26a69a"/>
<line x1="360.50" x2="360.50" y1="182.01" y2="201.63" stroke="#ef5350" stroke-width="0.9"/>
<rect x="358.00" y="192.36" width="5.0" height="0.98" fill="#ef5350"/>
<line x1="366.85" x2="366.85" y1="171.82" y2="195.57" stroke="#26a69a" stroke-width="0.9"/>
<rect x="364.35" y="174.26" width="5.0" height="19.08" fill="#26a69a"/>
<line x1="373.21" x2="373.21" y1="171.82" y2="197.62" stroke="#ef5350" stroke-width="0.9"/>
<rect x="370.71" y="174.26" width="5.0" height="23.02" fill="#ef5350"/>
<line x1="379.56" x2="379.56" y1="188.62" y2="214.75" stroke="#ef5350" stroke-width="0.9"/>
<rect x="377.06" y="197.27" width="5.0" height="8.75" fill="#ef5350"/>
<line x1="385.92" x2="385.92" y1="185.89" y2="207.05" stroke="#26a69a" stroke-width="0.9"/>
<rect x="383.42" y="190.92" width="5.0" height="15.10" fill="#26a69a"/>
<line x1="392.27" x2="392.27" y1="174.53" y2="196.60" stroke="#26a69a" stroke-width="0.9"/>
<rect x="389.77" y="176.28" width="5.0" height="14.64" fill="#26a69a"/>
<line x1="398.63" x2="398.63" y1="167.22" y2="179.61" stroke="#26a69a" stroke-width="0.9"/>
<rect x="396.13" y="169.96" width="5.0" height="6.32" fill="#26a69a"/>
<line x1="404.98" x2="404.98" y1="169.90" y2="188.56" stroke="#ef5350" stroke-width="0.9"/>
<rect x="402.48" y="169.96" width="5.0" height="8.75" fill="#ef5350"/>
<line x1="411.34" x2="411.34" y1="173.44" y2="191.56" stroke="#26a69a" stroke-width="0.9"/>
<rect x="408.84" y="178.23" width="5.0" height="0.80" fill="#26a69a"/>
<line x1="417.69" x2="417.69" y1="158.59" y2="179.88" stroke="#26a69a" stroke-width="0.9"/>
<rect x="415.19" y="159.67" width="5.0" height="18.87" fill="#26a69a"/>
<line x1="424.05" x2="424.05" y1="158.25" y2="171.01" stroke="#ef5350" stroke-width="0.9"/>
<rect x="421.55" y="159.67" width="5.0" height="2.98" fill="#ef5350"/>
<line x1="430.40" x2="430.40" y1="146.68" y2="164.26" stroke="#26a69a" stroke-width="0.9"/>
<rect x="427.90" y="160.42" width="5.0" height="2.23" fill="#26a69a"/>
<line x1="436.76" x2="436.76" y1="126.15" y2="166.20" stroke="#26a69a" stroke-width="0.9"/>
<rect x="434.26" y="128.96" width="5.0" height="31.46" fill="#26a69a"/>
<line x1="443.11" x2="443.11" y1="98.92" y2="129.35" stroke="#26a69a" stroke-width="0.9"/>
<rect x="440.61" y="106.44" width="5.0" height="22.52" fill="#26a69a"/>
<line x1="449.47" x2="449.47" y1="85.68" y2="107.52" stroke="#26a69a" stroke-width="0.9"/>
<rect x="446.97" y="89.13" width="5.0" height="17.31" fill="#26a69a"/>
<line x1="455.82" x2="455.82" y1="87.14" y2="104.35" stroke="#ef5350" stroke-width="0.9"/>
<rect x="453.32" y="89.13" width="5.0" height="1.48" fill="#ef5350"/>
<line x1="462.18" x2="462.18" y1="76.75" y2="105.00" stroke="#26a69a" stroke-width="0.9"/>
<rect x="459.68" y="82.62" width="5.0" height="7.99" fill="#26a69a"/>
<line x1="468.53" x2="468.53" y1="74.51" y2="97.01" stroke="#26a69a" stroke-width="0.9"/>
<rect x="466.03" y="76.03" width="5.0" height="6.59" fill="#26a69a"/>
<line x1="474.89" x2="474.89" y1="68.65" y2="101.17" stroke="#ef5350" stroke-width="0.9"/>
<rect x="472.39" y="76.03" width="5.0" height="18.78" fill="#ef5350"/>
<line x1="481.24" x2="481.24" y1="84.92" y2="100.54" stroke="#ef5350" stroke-width="0.9"/>
<rect x="478.74" y="94.80" width="5.0" height="3.09" fill="#ef5350"/>
<line x1="487.60" x2="487.60" y1="86.92" y2="102.71" stroke="#26a69a" stroke-width="0.9"/>
<rect x="485.10" y="88.47" width="5.0" height="9.43" fill="#26a69a"/>
<line x1="493.95" x2="493.95" y1="79.42" y2="103.43" stroke="#ef5350" stroke-width="0.9"/>
<rect x="491.45" y="88.47" width="5.0" height="7.70" fill="#ef5350"/>
<line x1="500.31" x2="500.31" y1="72.28" y2="107.79" stroke="#26a69a" stroke-width="0.9"/>
<rect x="497.81" y="82.17" width="5.0" height="14.00" fill="#26a69a"/>
<line x1="506.66" x2="506.66" y1="66.36" y2="85.75" stroke="#26a69a" stroke-width="0.9"/>
<rect x="504.16" y="79.62" width="5.0" height="2.55" fill="#26a69a"/>
<line x1="513.01" x2="513.01" y1="72.21" y2="92.77" stroke="#ef5350" stroke-width="0.9"/>
<rect x="510.51" y="79.62" width="5.0" height="9.92" fill="#ef5350"/>
<line x1="519.37" x2="519.37" y1="79.86" y2="103.37" stroke="#ef5350" stroke-width="0.9"/>
<rect x="516.87" y="89.54" width="5.0" height="2.57" fill="#ef5350"/>
<line x1="525.73" x2="525.73" y1="87.23" y2="97.14" stroke="#ef5350" stroke-width="0.9"/>
<rect x="523.23" y="92.08" width="5.0" height="0.80" fill="#ef5350"/>
<line x1="532.08" x2="532.08" y1="85.91" y2="98.65" stroke="#26a69a" stroke-width="0.9"/>
<rect x="529.58" y="92.29" width="5.0" height="0.80" fill="#26a69a"/>
<line x1="538.44" x2="538.44" y1="92.04" y2="134.34" stroke="#ef5350" stroke-width="0.9"/>
<rect x="535.94" y="92.54" width="5.0" height="4.21" fill="#ef5350"/>
<line x1="544.79" x2="544.79" y1="96.45" y2="129.76" stroke="#ef5350" stroke-width="0.9"/>
<rect x="542.29" y="96.76" width="5.0" height="31.30" fill="#ef5350"/>
<line x1="551.15" x2="551.15" y1="116.92" y2="138.65" stroke="#26a69a" stroke-width="0.9"/>
<rect x="548.65" y="123.50" width="5.0" height="4.55" fill="#26a69a"/>
<line x1="557.50" x2="557.50" y1="111.91" y2="127.05" stroke="#26a69a" stroke-width="0.9"/>
<rect x="555.00" y="115.10" width="5.0" height="8.40" fill="#26a69a"/>
<line x1="563.86" x2="563.86" y1="108.91" y2="125.98" stroke="#ef5350" stroke-width="0.9"/>
<rect x="561.36" y="115.10" width="5.0" height="8.85" fill="#ef5350"/>
<line x1="570.21" x2="570.21" y1="109.51" y2="137.21" stroke="#ef5350" stroke-width="0.9"/>
<rect x="567.71" y="123.95" width="5.0" height="9.94" fill="#ef5350"/>
<line x1="576.57" x2="576.57" y1="115.06" y2="144.25" stroke="#26a69a" stroke-width="0.9"/>
<rect x="574.07" y="120.62" width="5.0" height="13.27" fill="#26a69a"/>
<line x1="582.92" x2="582.92" y1="114.13" y2="122.19" stroke="#26a69a" stroke-width="0.9"/>
<rect x="580.42" y="117.23" width="5.0" height="3.39" fill="#26a69a"/>
<line x1="589.28" x2="589.28" y1="93.59" y2="117.31" stroke="#26a69a" stroke-width="0.9"/>
<rect x="586.78" y="97.88" width="5.0" height="19.36" fill="#26a69a"/>
<line x1="595.63" x2="595.63" y1="89.14" y2="99.93" stroke="#26a69a" stroke-width="0.9"/>
<rect x="593.13" y="96.74" width="5.0" height="1.13" fill="#26a69a"/>
<line x1="601.99" x2="601.99" y1="75.02" y2="98.68" stroke="#26a69a" stroke-width="0.9"/>
<rect x="599.49" y="76.70" width="5.0" height="20.05" fill="#26a69a"/>
<line x1="608.34" x2="608.34" y1="73.42" y2="83.40" stroke="#26a69a" stroke-width="0.9"/>
<rect x="605.84" y="72.22" width="5.0" height="4.48" fill="#26a69a"/>
<line x1="614.70" x2="614.70" y1="62.00" y2="80.85" stroke="#26a69a" stroke-width="0.9"/>
<rect x="612.20" y="67.44" width="5.0" height="4.78" fill="#26a69a"/>
<line x1="621.05" x2="621.05" y1="64.29" y2="78.74" stroke="#ef5350" stroke-width="0.9"/>
<rect x="618.55" y="67.44" width="5.0" height="6.33" fill="#ef5350"/>
<line x1="627.41" x2="627.41" y1="71.57" y2="84.09" stroke="#26a69a" stroke-width="0.9"/>
<rect x="624.91" y="73.27" width="5.0" height="0.80" fill="#26a69a"/>
<line x1="633.76" x2="633.76" y1="64.63" y2="79.53" stroke="#ef5350" stroke-width="0.9"/>
<rect x="631.26" y="73.32" width="5.0" height="0.80" fill="#ef5350"/>
<line x1="640.12" x2="640.12" y1="67.53" y2="88.51" stroke="#ef5350" stroke-width="0.9"/>
<rect x="637.62" y="73.85" width="5.0" height="9.05" fill="#ef5350"/>
<line x1="646.47" x2="646.47" y1="68.32" y2="85.63" stroke="#26a69a" stroke-width="0.9"/>
<rect x="643.97" y="68.64" width="5.0" height="14.27" fill="#26a69a"/>
<line x1="652.83" x2="652.83" y1="64.63" y2="74.80" stroke="#26a69a" stroke-width="0.9"/>
<rect x="650.33" y="67.07" width="5.0" height="1.57" fill="#26a69a"/>
<line x1="659.18" x2="659.18" y1="48.90" y2="70.37" stroke="#26a69a" stroke-width="0.9"/>
<rect x="656.68" y="49.58" width="5.0" height="17.49" fill="#26a69a"/>
<line x1="665.54" x2="665.54" y1="42.69" y2="55.34" stroke="#ef5350" stroke-width="0.9"/>
<rect x="663.04" y="49.58" width="5.0" height="3.11" fill="#ef5350"/>
<line x1="671.89" x2="671.89" y1="47.62" y2="57.11" stroke="#26a69a" stroke-width="0.9"/>
<rect x="669.39" y="49.02" width="5.0" height="3.67" fill="#26a69a"/>
<line x1="678.25" x2="678.25" y1="48.37" y2="62.11" stroke="#ef5350" stroke-width="0.9"/>
<rect x="675.75" y="49.02" width="5.0" height="9.00" fill="#ef5350"/>
<line x1="684.60" x2="684.60" y1="49.19" y2="60.79" stroke="#26a69a" stroke-width="0.9"/>
<rect x="682.10" y="49.22" width="5.0" height="8.80" fill="#26a69a"/>
<line x1="690.96" x2="690.96" y1="40.64" y2="53.48" stroke="#ef5350" stroke-width="0.9"/>
<rect x="688.46" y="49.22" width="5.0" height="3.22" fill="#ef5350"/>
<line x1="697.31" x2="697.31" y1="52.21" y2="64.36" stroke="#ef5350" stroke-width="0.9"/>
<rect x="694.81" y="52.45" width="5.0" height="6.84" fill="#ef5350"/>
<line x1="703.67" x2="703.67" y1="58.98" y2="70.52" stroke="#ef5350" stroke-width="0.9"/>
<rect x="701.17" y="59.29" width="5.0" height="9.56" fill="#ef5350"/>
<line x1="710.02" x2="710.02" y1="59.48" y2="70.70" stroke="#26a69a" stroke-width="0.9"/>
<rect x="707.52" y="63.51" width="5.0" height="5.33" fill="#26a69a"/>
<line x1="716.38" x2="716.38" y1="53.72" y2="64.46" stroke="#26a69a" stroke-width="0.9"/>
<rect x="713.88" y="56.02" width="5.0" height="7.49" fill="#26a69a"/>
<line x1="722.73" x2="722.73" y1="51.60" y2="57.71" stroke="#ef5350" stroke-width="0.9"/>
<rect x="720.23" y="55.72" width="5.0" height="0.80" fill="#ef5350"/>
<line x1="729.09" x2="729.09" y1="55.96" y2="68.15" stroke="#ef5350" stroke-width="0.9"/>
<rect x="726.59" y="56.22" width="5.0" height="5.45" fill="#ef5350"/>
<line x1="735.44" x2="735.44" y1="38.65" y2="62.76" stroke="#26a69a" stroke-width="0.9"/>
<rect x="732.94" y="42.26" width="5.0" height="19.41" fill="#26a69a"/>
<line x1="741.80" x2="741.80" y1="37.86" y2="80.84" stroke="#ef5350" stroke-width="0.9"/>
<rect x="739.30" y="42.26" width="5.0" height="14.44" fill="#ef5350"/>
<line x1="748.15" x2="748.15" y1="54.94" y2="77.84" stroke="#ef5350" stroke-width="0.9"/>
<rect x="745.65" y="56.70" width="5.0" height="11.41" fill="#ef5350"/>
<line x1="754.51" x2="754.51" y1="55.81" y2="71.81" stroke="#26a69a" stroke-width="0.9"/>
<rect x="752.01" y="57.40" width="5.0" height="10.71" fill="#26a69a"/>
<line x1="760.86" x2="760.86" y1="54.18" y2="72.50" stroke="#ef5350" stroke-width="0.9"/>
<rect x="758.36" y="57.40" width="5.0" height="7.21" fill="#ef5350"/>
<line x1="767.22" x2="767.22" y1="64.20" y2="86.99" stroke="#ef5350" stroke-width="0.9"/>
<rect x="764.72" y="64.61" width="5.0" height="10.94" fill="#ef5350"/>
<line x1="773.57" x2="773.57" y1="70.24" y2="99.48" stroke="#ef5350" stroke-width="0.9"/>
<rect x="771.07" y="75.55" width="5.0" height="21.35" fill="#ef5350"/>
<line x1="779.93" x2="779.93" y1="93.09" y2="128.39" stroke="#ef5350" stroke-width="0.9"/>
<rect x="777.43" y="96.90" width="5.0" height="16.46" fill="#ef5350"/>
<line x1="786.28" x2="786.28" y1="99.50" y2="117.01" stroke="#26a69a" stroke-width="0.9"/>
<rect x="783.78" y="105.31" width="5.0" height="8.05" fill="#26a69a"/>
<line x1="792.64" x2="792.64" y1="97.01" y2="120.47" stroke="#26a69a" stroke-width="0.9"/>
<rect x="790.14" y="104.87" width="5.0" height="0.80" fill="#26a69a"/>
<line x1="798.99" x2="798.99" y1="96.08" y2="111.63" stroke="#ef5350" stroke-width="0.9"/>
<rect x="796.49" y="105.23" width="5.0" height="5.03" fill="#ef5350"/>
<line x1="805.35" x2="805.35" y1="105.30" y2="118.97" stroke="#26a69a" stroke-width="0.9"/>
<rect x="802.85" y="109.15" width="5.0" height="1.11" fill="#26a69a"/>
<line x1="811.70" x2="811.70" y1="104.80" y2="114.31" stroke="#ef5350" stroke-width="0.9"/>
<rect x="809.20" y="109.15" width="5.0" height="1.61" fill="#ef5350"/>
<line x1="818.06" x2="818.06" y1="102.10" y2="113.41" stroke="#26a69a" stroke-width="0.9"/>
<rect x="815.56" y="102.71" width="5.0" height="8.05" fill="#26a69a"/>
<line x1="824.41" x2="824.41" y1="95.65" y2="107.67" stroke="#ef5350" stroke-width="0.9"/>
<rect x="821.91" y="102.71" width="5.0" height="1.14" fill="#ef5350"/>
<line x1="830.77" x2="830.77" y1="89.08" y2="106.00" stroke="#26a69a" stroke-width="0.9"/>
<rect x="828.27" y="98.20" width="5.0" height="5.66" fill="#26a69a"/>
<line x1="837.12" x2="837.12" y1="97.98" y2="115.29" stroke="#ef5350" stroke-width="0.9"/>
<rect x="834.62" y="98.20" width="5.0" height="15.53" fill="#ef5350"/>
<line x1="843.48" x2="843.48" y1="104.77" y2="114.10" stroke="#26a69a" stroke-width="0.9"/>
<rect x="840.98" y="110.65" width="5.0" height="3.08" fill="#26a69a"/>
<line x1="201" y1="144" x2="456.5" y2="165.4" stroke="#1a1d27" stroke-width="1.7"/>
<line x1="210" y1="191" x2="443.9" y2="223.5" stroke="#1a1d27" stroke-width="1.7"/>
<defs><linearGradient id="ob" gradientUnits="userSpaceOnUse" x1="0" y1="379.95" x2="0" y2="403.12"><stop offset="0" stop-color="#4caf50" stop-opacity="1"/><stop offset="1" stop-color="#4caf50" stop-opacity="0"/></linearGradient>
<clipPath id="obc"><rect x="8" y="386" width="958" height="17.12"/></clipPath></defs>
<polygon clip-path="url(#obc)" points="10.97,403.12 7.5,411.62 10.97,412.32 17.33,413.32 23.68,412.70 30.04,421.50 36.39,421.76 42.75,422.16 49.10,422.58 55.45,419.85 61.81,420.87 68.17,414.52 74.52,414.83 80.88,417.99 87.23,409.39 93.59,401.26 99.94,400.53 106.30,397.98 112.65,397.64 119.01,397.53 125.36,394.78 131.72,391.76 138.07,399.72 144.43,398.11 150.78,400.33 157.14,398.62 163.49,404.92 169.84,405.34 176.20,404.71 182.56,403.93 188.91,397.67 195.27,394.86 201.62,395.97 207.98,390.38 214.33,388.70 220.69,389.83 227.04,392.25 233.40,390.80 239.75,394.55 246.11,401.11 252.46,402.32 258.82,405.36 265.17,404.64 271.53,408.82 277.88,404.78 284.24,403.16 290.59,404.40 296.95,402.95 303.30,407.90 309.66,412.96 316.01,413.57 322.37,421.85 328.72,416.51 335.08,410.30 341.43,410.23 347.79,420.20 354.14,419.70 360.50,419.96 366.85,414.76 373.21,420.84 379.56,422.70 385.92,418.92 392.27,415.40 398.63,413.90 404.98,416.46 411.34,416.41 417.69,411.62 424.05,412.65 430.40,412.06 436.76,404.71 443.11,400.56 449.47,397.82 455.82,398.56 462.18,397.28 468.53,396.24 474.89,405.46 481.24,406.74 487.60,404.70 493.95,408.01 500.31,404.88 506.66,404.33 513.01,408.77 519.37,409.85 525.73,410.16 532.08,410.07 538.44,412.07 544.79,422.76 551.15,421.33 557.50,418.66 563.86,421.28 570.21,423.90 576.57,419.70 582.92,418.64 589.28,412.93 595.63,412.61 601.99,407.28 608.34,406.19 614.70,405.01 621.05,408.14 627.41,408.09 633.76,408.23 640.12,412.79 646.47,408.26 652.83,407.78 659.18,402.95 665.54,404.75 671.89,403.75 678.25,408.87 684.60,406.22 690.96,408.02 697.31,411.62 703.67,415.97 710.02,414.03 716.38,411.40 722.73,411.50 729.09,414.31 735.44,407.57 741.80,414.38 748.15,418.60 754.51,415.10 760.86,417.72 767.22,421.21 773.57,426.48 779.93,429.55 786.28,427.12 792.64,427.10 798.99,428.14 805.35,427.75 811.70,428.11 818.06,425.05 824.41,425.37 830.77,423.09 837.12,427.40 843.48,426.19 843.48,403.12" fill="url(#ob)"/>
<polyline points="7.5,411.51 10.97,411.74 17.33,411.31 23.68,410.73 30.04,411.05 36.39,411.56 42.75,412.25 49.10,413.09 55.45,413.84 61.81,414.73 68.17,415.21 74.52,415.66 80.88,416.28 87.23,416.23 93.59,415.60 99.94,414.91 106.30,413.98 112.65,413.06 119.01,411.35 125.36,409.42 131.72,407.25 138.07,405.62 144.43,404.06 150.78,402.60 157.14,401.46 163.49,400.75 169.84,399.85 176.20,399.52 182.56,399.71 188.91,399.50 195.27,399.28 201.62,399.16 207.98,398.65 214.33,398.22 220.69,398.08 227.04,397.54 233.40,397.02 239.75,396.61 246.11,396.79 252.46,396.60 258.82,396.60 265.17,396.60 271.53,396.95 277.88,397.46 284.24,398.05 290.59,398.65 296.95,399.55 303.30,400.92 309.66,402.57 316.01,404.09 322.37,406.31 328.72,407.88 335.08,408.54 341.43,409.10 347.79,410.16 354.14,411.24 360.50,412.03 366.85,412.74 373.21,414.01 379.56,415.32 385.92,416.46 392.27,416.99 398.63,417.06 404.98,417.27 411.34,416.88 417.69,416.53 424.05,416.70 430.40,416.83 436.76,415.72 443.11,414.35 449.47,412.77 455.82,411.62 462.18,409.93 468.53,408.04 474.89,407.08 481.24,406.46 487.60,405.80 493.95,405.20 500.31,404.38 506.66,403.86 513.01,403.58 519.37,403.42 525.73,403.81 532.08,404.49 538.44,405.51 544.79,407.24 551.15,408.95 557.50,410.56 563.86,411.69 570.21,412.91 576.57,413.98 582.92,414.74 589.28,415.32 595.63,415.91 601.99,415.80 608.34,415.54 614.70,415.17 621.05,415.03 627.41,414.75 633.76,413.71 640.12,413.10 646.47,412.36 652.83,411.40 659.18,409.90 665.54,408.83 671.89,407.77 678.25,407.48 684.60,407.02 690.96,407.07 697.31,407.46 703.67,408.25 710.02,408.67 716.38,408.90 722.73,409.14 729.09,409.25 735.44,409.20 741.80,409.67 748.15,410.79 754.51,411.52 760.86,412.52 767.22,413.40 773.57,414.85 779.93,416.39 786.28,417.50 792.64,418.29 798.99,419.30 805.35,420.47 811.70,421.65 818.06,422.42 824.41,423.69 830.77,424.31 837.12,424.94 843.48,425.73" fill="none" stroke="#f7e04a" stroke-width="0.95" stroke-linejoin="round"/>
<polyline points="7.5,411.62 10.97,412.32 17.33,413.32 23.68,412.70 30.04,421.50 36.39,421.76 42.75,422.16 49.10,422.58 55.45,419.85 61.81,420.87 68.17,414.52 74.52,414.83 80.88,417.99 87.23,409.39 93.59,401.26 99.94,400.53 106.30,397.98 112.65,397.64 119.01,397.53 125.36,394.78 131.72,391.76 138.07,399.72 144.43,398.11 150.78,400.33 157.14,398.62 163.49,404.92 169.84,405.34 176.20,404.71 182.56,403.93 188.91,397.67 195.27,394.86 201.62,395.97 207.98,390.38 214.33,388.70 220.69,389.83 227.04,392.25 233.40,390.80 239.75,394.55 246.11,401.11 252.46,402.32 258.82,405.36 265.17,404.64 271.53,408.82 277.88,404.78 284.24,403.16 290.59,404.40 296.95,402.95 303.30,407.90 309.66,412.96 316.01,413.57 322.37,421.85 328.72,416.51 335.08,410.30 341.43,410.23 347.79,420.20 354.14,419.70 360.50,419.96 366.85,414.76 373.21,420.84 379.56,422.70 385.92,418.92 392.27,415.40 398.63,413.90 404.98,416.46 411.34,416.41 417.69,411.62 424.05,412.65 430.40,412.06 436.76,404.71 443.11,400.56 449.47,397.82 455.82,398.56 462.18,397.28 468.53,396.24 474.89,405.46 481.24,406.74 487.60,404.70 493.95,408.01 500.31,404.88 506.66,404.33 513.01,408.77 519.37,409.85 525.73,410.16 532.08,410.07 538.44,412.07 544.79,422.76 551.15,421.33 557.50,418.66 563.86,421.28 570.21,423.90 576.57,419.70 582.92,418.64 589.28,412.93 595.63,412.61 601.99,407.28 608.34,406.19 614.70,405.01 621.05,408.14 627.41,408.09 633.76,408.23 640.12,412.79 646.47,408.26 652.83,407.78 659.18,402.95 665.54,404.75 671.89,403.75 678.25,408.87 684.60,406.22 690.96,408.02 697.31,411.62 703.67,415.97 710.02,414.03 716.38,411.40 722.73,411.50 729.09,414.31 735.44,407.57 741.80,414.38 748.15,418.60 754.51,415.10 760.86,417.72 767.22,421.21 773.57,426.48 779.93,429.55 786.28,427.12 792.64,427.10 798.99,428.14 805.35,427.75 811.70,428.11 818.06,425.05 824.41,425.37 830.77,423.09 837.12,427.40 843.48,426.19" fill="none" stroke="#7e57c2" stroke-width="0.95" stroke-linejoin="round"/>
<rect x="967" y="19" width="50" height="438" fill="#fff"/>
<g stroke="#eef3f8" stroke-width="1" shape-rendering="crispEdges">
</g>
<rect x="7.5" y="18.5" width="1009" height="438" fill="none" stroke="#eef0f4" stroke-width="1"/>
<line x1="8" x2="1017" y1="385.5" y2="385.5" stroke="#e0e3eb" stroke-width="1"/>
<line x1="8" x2="1017" y1="437.5" y2="437.5" stroke="#787b86" stroke-width="0.85"/>
<line x1="966.7" x2="966.7" y1="19" y2="457" stroke="#787b86" stroke-width="0.85"/>
<text x="972.50" y="68.10" font-size="8.3" fill="#20242f" textLength="37.90" lengthAdjust="spacingAndGlyphs">110,000.00</text>
<text x="972.50" y="97.70" font-size="8.3" fill="#20242f" textLength="34.00" lengthAdjust="spacingAndGlyphs">95,000.00</text>
<text x="972.50" y="145.43" font-size="8.3" fill="#20242f" textLength="34.00" lengthAdjust="spacingAndGlyphs">75,000.00</text>
<text x="972.50" y="168.20" font-size="8.3" fill="#20242f" textLength="34.00" lengthAdjust="spacingAndGlyphs">67,000.00</text>
<text x="972.50" y="192.17" font-size="8.3" fill="#20242f" textLength="34.00" lengthAdjust="spacingAndGlyphs">59,500.00</text>
<text x="972.50" y="213.63" font-size="8.3" fill="#20242f" textLength="34.00" lengthAdjust="spacingAndGlyphs">53,500.00</text>
<text x="972.50" y="237.65" font-size="8.3" fill="#20242f" textLength="34.00" lengthAdjust="spacingAndGlyphs">47,500.00</text>
<text x="972.50" y="264.91" font-size="8.3" fill="#20242f" textLength="34.00" lengthAdjust="spacingAndGlyphs">41,500.00</text>
<text x="972.50" y="285.37" font-size="8.3" fill="#20242f" textLength="34.00" lengthAdjust="spacingAndGlyphs">37,500.00</text>
<text x="972.50" y="308.15" font-size="8.3" fill="#20242f" textLength="34.00" lengthAdjust="spacingAndGlyphs">33,500.00</text>
<text x="972.50" y="333.82" font-size="8.3" fill="#20242f" textLength="34.00" lengthAdjust="spacingAndGlyphs">29,500.00</text>
<text x="972.50" y="353.95" font-size="8.3" fill="#20242f" textLength="34.00" lengthAdjust="spacingAndGlyphs">26,700.00</text>
<text x="972.50" y="373.80" font-size="8.3" fill="#20242f" textLength="34.00" lengthAdjust="spacingAndGlyphs">24,200.00</text>
<text x="972.50" y="398.00" font-size="8.3" fill="#20242f" textLength="18.60" lengthAdjust="spacingAndGlyphs">80.00</text>
<text x="972.50" y="428.90" font-size="8.3" fill="#20242f" textLength="18.60" lengthAdjust="spacingAndGlyphs">40.00</text>
<rect x="969.5" y="21.5" width="44.5" height="18" rx="2" fill="#fff" stroke="#f0f3fa" stroke-width="1"/>
<text x="975.40" y="33.30" font-size="8.3" fill="#20242f" textLength="18.80" lengthAdjust="spacingAndGlyphs">USDT</text>
<rect x="929" y="105.3" width="37" height="10.7" rx="1" fill="#22a094"/>
<text x="932.30" y="113.50" font-size="8.3" fill="#fff" textLength="30.50" lengthAdjust="spacingAndGlyphs">BTCUSDT</text>
<rect x="966.3" y="105.3" width="43.7" height="19.7" rx="1.5" fill="#22a094"/>
<text x="972.80" y="113.50" font-size="8.3" fill="#fff" textLength="33.20" lengthAdjust="spacingAndGlyphs">88,001.79</text>
<text x="972.80" y="122.50" font-size="8.3" fill="#fff" textLength="22.30" lengthAdjust="spacingAndGlyphs" fill-opacity="0.85">3d 12h</text>
<text x="43.00" y="449.60" font-size="8.3" fill="#40434e" textLength="12.20" lengthAdjust="spacingAndGlyphs">Sep</text>
<text x="99.70" y="449.60" font-size="8.3" fill="#40434e" textLength="13.20" lengthAdjust="spacingAndGlyphs">Nov</text>
<text x="148.24" y="449.60" font-size="8.3" fill="#131722" textLength="17.80" lengthAdjust="spacingAndGlyphs" font-weight="bold">2024</text>
<text x="208.28" y="449.60" font-size="8.3" fill="#40434e" textLength="12.10" lengthAdjust="spacingAndGlyphs">Mar</text>
<text x="264.83" y="449.60" font-size="8.3" fill="#40434e" textLength="13.40" lengthAdjust="spacingAndGlyphs">May</text>
<text x="317.32" y="449.60" font-size="8.3" fill="#40434e" textLength="10.10" lengthAdjust="spacingAndGlyphs">Jul</text>
<text x="373.46" y="449.60" font-size="8.3" fill="#40434e" textLength="12.20" lengthAdjust="spacingAndGlyphs">Sep</text>
<text x="430.16" y="449.60" font-size="8.3" fill="#40434e" textLength="13.20" lengthAdjust="spacingAndGlyphs">Nov</text>
<text x="485.05" y="449.60" font-size="8.3" fill="#131722" textLength="17.80" lengthAdjust="spacingAndGlyphs" font-weight="bold">2025</text>
<text x="538.74" y="449.60" font-size="8.3" fill="#40434e" textLength="12.10" lengthAdjust="spacingAndGlyphs">Mar</text>
<text x="595.28" y="449.60" font-size="8.3" fill="#40434e" textLength="13.40" lengthAdjust="spacingAndGlyphs">May</text>
<text x="654.13" y="449.60" font-size="8.3" fill="#40434e" textLength="10.10" lengthAdjust="spacingAndGlyphs">Jul</text>
<text x="703.92" y="449.60" font-size="8.3" fill="#40434e" textLength="12.20" lengthAdjust="spacingAndGlyphs">Sep</text>
<text x="760.62" y="449.60" font-size="8.3" fill="#40434e" textLength="13.20" lengthAdjust="spacingAndGlyphs">Nov</text>
<text x="815.51" y="449.60" font-size="8.3" fill="#131722" textLength="17.80" lengthAdjust="spacingAndGlyphs" font-weight="bold">2026</text>
<text x="869.20" y="449.60" font-size="8.3" fill="#40434e" textLength="12.10" lengthAdjust="spacingAndGlyphs">Mar</text>
<text x="925.75" y="449.60" font-size="8.3" fill="#40434e" textLength="13.40" lengthAdjust="spacingAndGlyphs">May</text>
<text x="855.00" y="40.86" font-size="9.0" fill="#787b86" textLength="55.21" lengthAdjust="spacingAndGlyphs">0 (126,199.00)</text>
<text x="855.00" y="61.36" font-size="9.0" fill="#f23645" textLength="71.72" lengthAdjust="spacingAndGlyphs">0.236 (114,017.47)</text>
<text x="855.00" y="75.16" font-size="9.0" fill="#ff9800" textLength="71.72" lengthAdjust="spacingAndGlyphs">0.382 (106,481.45)</text>
<text x="855.00" y="87.06" font-size="9.0" fill="#4caf50" textLength="62.60" lengthAdjust="spacingAndGlyphs">0.5 (100,390.68)</text>
<text x="855.00" y="99.69" font-size="9.0" fill="#089981" textLength="67.16" lengthAdjust="spacingAndGlyphs">0.618 (94,299.92)</text>
<text x="855.00" y="119.17" font-size="9.0" fill="#00bcd4" textLength="67.16" lengthAdjust="spacingAndGlyphs">0.786 (85,628.33)</text>
<text x="855.00" y="147.05" font-size="9.0" fill="#787b86" textLength="50.65" lengthAdjust="spacingAndGlyphs">1 (74,582.37)</text>
<text x="855.00" y="189.16" font-size="9.0" fill="#ff9800" textLength="67.16" lengthAdjust="spacingAndGlyphs">1.272 (60,542.64)</text>
<text x="855.00" y="215.21" font-size="9.0" fill="#f23645" textLength="67.16" lengthAdjust="spacingAndGlyphs">1.414 (53,213.08)</text>
<text x="855.00" y="259.73" font-size="9.0" fill="#2962ff" textLength="67.16" lengthAdjust="spacingAndGlyphs">1.618 (42,683.29)</text>
<text x="7.00" y="13.70" font-size="9.0" fill="#131722" textLength="276.00" lengthAdjust="spacingAndGlyphs" stroke="#131722" stroke-width="0.18">Jake_Simmons created with TradingView.com, Jan 29, 2026 07:38 UTC-5</text>
<text x="13.00" y="32.70" font-size="8.6" fill="#20242f" textLength="127.60" lengthAdjust="spacingAndGlyphs">Bitcoin / TetherUS · 1W · Binance</text>
<text x="146.20" y="32.70" font-size="8.6" fill="#20242f" textLength="5.10" lengthAdjust="spacingAndGlyphs">O</text>
<text x="151.70" y="32.70" font-size="8.6" fill="#82858f" textLength="37.00" lengthAdjust="spacingAndGlyphs">86,670.36</text>
<text x="195.10" y="32.70" font-size="8.6" fill="#20242f" textLength="4.70" lengthAdjust="spacingAndGlyphs">H</text>
<text x="200.40" y="32.70" font-size="8.6" fill="#82858f" textLength="36.70" lengthAdjust="spacingAndGlyphs">90,600.00</text>
<text x="243.10" y="32.70" font-size="8.6" fill="#20242f" textLength="3.60" lengthAdjust="spacingAndGlyphs">L</text>
<text x="247.30" y="32.70" font-size="8.6" fill="#82858f" textLength="36.40" lengthAdjust="spacingAndGlyphs">86,509.63</text>
<text x="289.90" y="32.70" font-size="8.6" fill="#20242f" textLength="4.60" lengthAdjust="spacingAndGlyphs">C</text>
<text x="295.20" y="32.70" font-size="8.6" fill="#82858f" textLength="36.30" lengthAdjust="spacingAndGlyphs">88,001.79</text>
<text x="337.50" y="32.70" font-size="8.6" fill="#82858f" textLength="71.40" lengthAdjust="spacingAndGlyphs">+1,331.43 (+1.54%)</text>
<text x="13.00" y="44.40" font-size="8.6" fill="#20242f" textLength="33.20" lengthAdjust="spacingAndGlyphs">Vol · BTC</text>
<text x="52.50" y="44.40" font-size="8.6" fill="#26a69a" textLength="27.50" lengthAdjust="spacingAndGlyphs">52.33 K</text>
<text x="13.00" y="56.20" font-size="8.6" fill="#20242f" textLength="75.70" lengthAdjust="spacingAndGlyphs">EMA 20/50/100/200</text>
<text x="93.90" y="56.20" font-size="8.6" fill="#fb3345" textLength="37.90" lengthAdjust="spacingAndGlyphs">96,013.50</text>
<text x="136.60" y="56.20" font-size="8.6" fill="#ff9a3a" textLength="37.40" lengthAdjust="spacingAndGlyphs">96,720.25</text>
<text x="179.60" y="56.20" font-size="8.6" fill="#3de9fb" textLength="36.90" lengthAdjust="spacingAndGlyphs">86,234.94</text>
<text x="221.50" y="56.20" font-size="8.6" fill="#2626ff" textLength="37.60" lengthAdjust="spacingAndGlyphs">68,147.02</text>
<text x="12.60" y="399.80" font-size="8.6" fill="#20242f" textLength="53.80" lengthAdjust="spacingAndGlyphs">RSI (14, close)</text>
<text x="72.40" y="399.80" font-size="8.6" fill="#7e57c2" textLength="20.60" lengthAdjust="spacingAndGlyphs">40.15</text>
<text x="98.60" y="399.80" font-size="8.6" fill="#f7e04a" textLength="20.30" lengthAdjust="spacingAndGlyphs">40.74</text>
<text x="125.00" y="400.00" font-size="9.5" fill="#40434e" textLength="6.30" lengthAdjust="spacingAndGlyphs">∅</text>
<text x="138.10" y="400.00" font-size="9.5" fill="#40434e" textLength="6.30" lengthAdjust="spacingAndGlyphs">∅</text>
<g transform="translate(8.1,470.1) scale(0.594)" fill="#131722"><path d="M14 22H7V11H0V4h14v18z"/><circle cx="20" cy="8" r="4"/><path d="M28 22h-8l7.5-18h8L28 22z"/></g>
<text x="34.70" y="483.10" font-size="14.1" fill="#131722" textLength="84.80" lengthAdjust="spacingAndGlyphs" font-weight="bold">TradingView</text>
</svg>
</body></html>
